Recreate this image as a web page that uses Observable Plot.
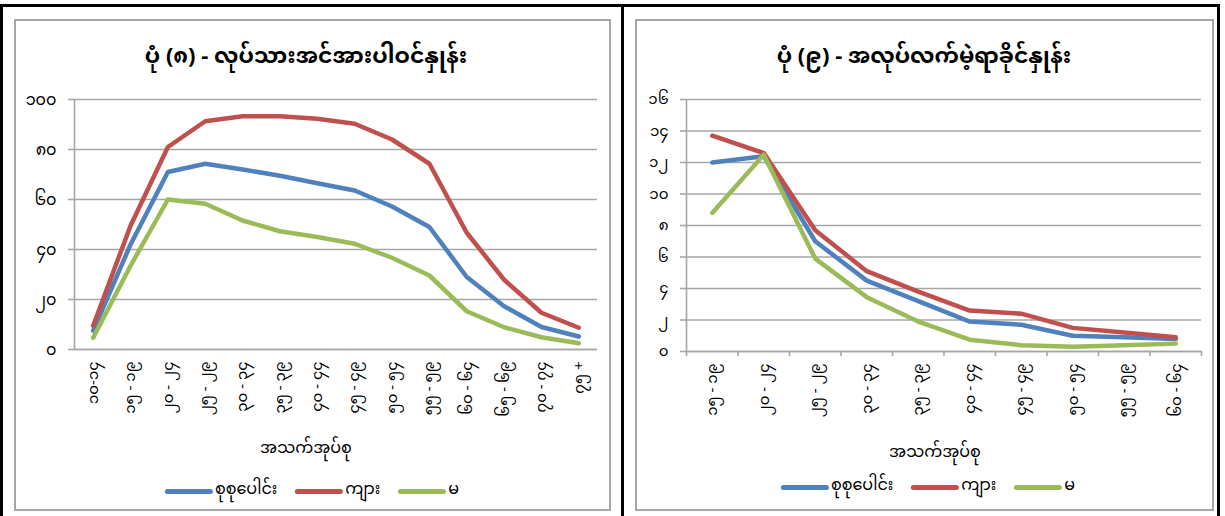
<!DOCTYPE html>
<html><head><meta charset="utf-8">
<script src="https://cdn.jsdelivr.net/npm/d3@7"></script>
<script src="https://cdn.jsdelivr.net/npm/@observablehq/plot@0.6"></script>
<style>
body{margin:0;background:#fff;}
#wrap{position:relative;width:1225px;height:516px;overflow:hidden;font-family:"Noto Sans Myanmar","Myanmar Text","Padauk","Pyidaungsu","Myanmar3","Noto Sans","DejaVu Sans",sans-serif;color:#000;}
.frame{position:absolute;left:0;top:4px;width:1220px;height:530px;border:3px solid #000;box-sizing:border-box;}
.divider{position:absolute;left:621px;top:4px;width:3px;height:520px;background:#000;}
.box{position:absolute;top:19px;height:492px;border:2.5px solid #a6a6a6;box-sizing:border-box;}
.title{position:absolute;font-weight:bold;font-size:22px;line-height:26px;transform:translateX(-50%);white-space:nowrap;}
.axt{position:absolute;font-size:16px;line-height:20px;transform:translateX(-50%);white-space:nowrap;}
.legend{position:absolute;transform:translateX(-50%);display:flex;align-items:center;font-size:16px;white-space:nowrap;line-height:20px;}
.legend .sw{display:inline-block;width:48px;height:5px;border-radius:3px;margin-right:2px;}
.legend .it{display:flex;align-items:center;margin-right:18px;}
.legend .it:last-child{margin-right:0;}
.plot{position:absolute;top:80px;}
</style></head>
<body>
<div id="wrap">
  <div class="frame"></div>
  <div class="divider"></div>
  <div class="box" style="left:14px;width:597px;"></div>
  <div class="box" style="left:635px;width:579px;"></div>
</div>
<script>
// ---- data ----
const seriesNames = ["စုစုပေါင်း", "ကျား", "မ"];
const seriesColors = ["#4F81BD", "#C0504D", "#9BBB59"];

const titleLeft = "ပုံ (၈) - လုပ်သားအင်အားပါဝင်နှုန်း";
const titleRight = "ပုံ (၉) - အလုပ်လက်မဲ့ရာခိုင်နှုန်း";
const xAxisTitle = "အသက်အုပ်စု";

const ageGroupsLFPR = ["၁၀-၁၄","၁၅ - ၁၉","၂၀ - ၂၄","၂၅ - ၂၉","၃၀ - ၃၄","၃၅ - ၃၉","၄၀ - ၄၄","၄၅ - ၄၉","၅၀ - ၅၄","၅၅ - ၅၉","၆၀ - ၆၄","၆၅ - ၆၉","၇၀ - ၇၄","၇၅ +"];
const lfprTotal  = [7.5, 42, 71, 74.3, 72, 69.5, 66.5, 63.6, 57.2, 49, 29, 17.3, 9, 5.2];
const lfprMale   = [9.5, 49.5, 81, 91.3, 93.3, 93.3, 92.3, 90.3, 84, 74.3, 46.7, 27.9, 14.7, 8.7];
const lfprFemale = [4.7, 33.5, 60, 58.3, 51.6, 47.3, 45, 42.3, 36.7, 29.6, 15.3, 8.9, 4.9, 2.5];
const lfprYTicks  = [0, 20, 40, 60, 80, 100];
const lfprYLabels = ["၀","၂၀","၄၀","၆၀","၈၀","၁၀၀"];

const ageGroupsUnemp = ["၁၅ - ၁၉","၂၀ - ၂၄","၂၅ - ၂၉","၃၀ - ၃၄","၃၅ - ၃၉","၄၀ - ၄၄","၄၅ - ၄၉","၅၀ - ၅၄","၅၅ - ၅၉","၆၀ - ၆၄"];
const unempTotal  = [12.0, 12.4, 7.0, 4.5, 3.2, 1.9, 1.7, 1.0, 0.9, 0.8];
const unempMale   = [13.7, 12.6, 7.7, 5.1, 3.8, 2.6, 2.4, 1.5, 1.2, 0.9];
const unempFemale = [8.8, 12.5, 5.9, 3.45, 1.9, 0.75, 0.4, 0.3, 0.4, 0.5];
const unempYTicks  = [0, 2, 4, 6, 8, 10, 12, 14, 16];
const unempYLabels = ["၀","၂","၄","၆","၈","၁၀","၁၂","၁၄","၁၆"];

const FONT = '"Noto Sans Myanmar","Myanmar Text","Padauk","Pyidaungsu","Myanmar3","Noto Sans","DejaVu Sans",sans-serif';
const GRID = "#a6a6a6";

function panel({cats, values, yTicks, yLabels, width, ml, mr, mb, between, yFont}) {
  const n = cats.length;
  const data = [];
  values.forEach((vals, s) => vals.forEach((v, i) => data.push({i: i + 0.5, v, name: seriesNames[s]})));
  return Plot.plot({
    width, height: 360,
    marginLeft: ml, marginRight: mr, marginTop: 19, marginBottom: mb,
    x: {type: "linear", domain: [0, n], axis: null},
    y: {domain: [yTicks[0], yTicks[yTicks.length - 1]], axis: null},
    color: {domain: seriesNames, range: seriesColors},
    style: {fontFamily: FONT, fontSize: "15px", color: "#000", background: "transparent", overflow: "visible"},
    marks: [
      Plot.gridY(yTicks, {stroke: GRID, strokeOpacity: 1, strokeWidth: 1.6}),
      Plot.axisY(yTicks, {tickSize: 6, tickPadding: 12, stroke: GRID, strokeWidth: 1.6, label: null,
        tickFormat: d => yLabels[yTicks.indexOf(d)], fontSize: yFont}),
      Plot.axisX(cats.map((c, i) => i + 0.5), {tickSize: 0, tickPadding: 12, tickRotate: -90, label: null,
        tickFormat: d => cats[Math.floor(d)], fontSize: 15}),
      between ? Plot.axisX(d3.range(n + 1), {tickSize: 5, tickFormat: () => "", stroke: GRID, strokeWidth: 1.6, label: null}) : null,
      Plot.ruleX([0], {stroke: GRID, strokeWidth: 1.6}),
      Plot.ruleY([0], {stroke: GRID, strokeWidth: 1.6}),
      Plot.line(data, {x: "i", y: "v", z: "name", stroke: "name", strokeWidth: 4.5, strokeLinejoin: "round", strokeLinecap: "round"})
    ]
  });
}

const wrap = document.getElementById("wrap");
function add(el, css) { Object.assign(el.style, css); wrap.appendChild(el); return el; }
function text(cls, t, css) { const d = document.createElement("div"); d.className = cls; d.textContent = t; return add(d, css); }
function legend(css) {
  const d = document.createElement("div"); d.className = "legend";
  seriesNames.forEach((nm, k) => {
    const it = document.createElement("span"); it.className = "it";
    const sw = document.createElement("span"); sw.className = "sw"; sw.style.background = seriesColors[k];
    it.appendChild(sw); it.appendChild(document.createTextNode(nm)); d.appendChild(it);
  });
  return add(d, css);
}

const left = panel({cats: ageGroupsLFPR, values: [lfprTotal, lfprMale, lfprFemale], yTicks: lfprYTicks, yLabels: lfprYLabels,
  width: 595, ml: 59, mr: 13, mb: 91, between: false, yFont: 16});
left.classList.add("plot"); add(left, {left: "15px"});

const right = panel({cats: ageGroupsUnemp, values: [unempTotal, unempMale, unempFemale], yTicks: unempYTicks, yLabels: unempYLabels,
  width: 577, ml: 50, mr: 12, mb: 89, between: true, yFont: 15});
right.classList.add("plot"); add(right, {left: "636px"});

text("title", titleLeft, {left: "306px", top: "45px"});
text("title", titleRight, {left: "924px", top: "45px"});
text("axt", xAxisTitle, {left: "306px", top: "440px"});
text("axt", xAxisTitle, {left: "935px", top: "444px"});
legend({left: "312px", top: "481px"});
legend({left: "928px", top: "477px"});
</script>
</body></html>
